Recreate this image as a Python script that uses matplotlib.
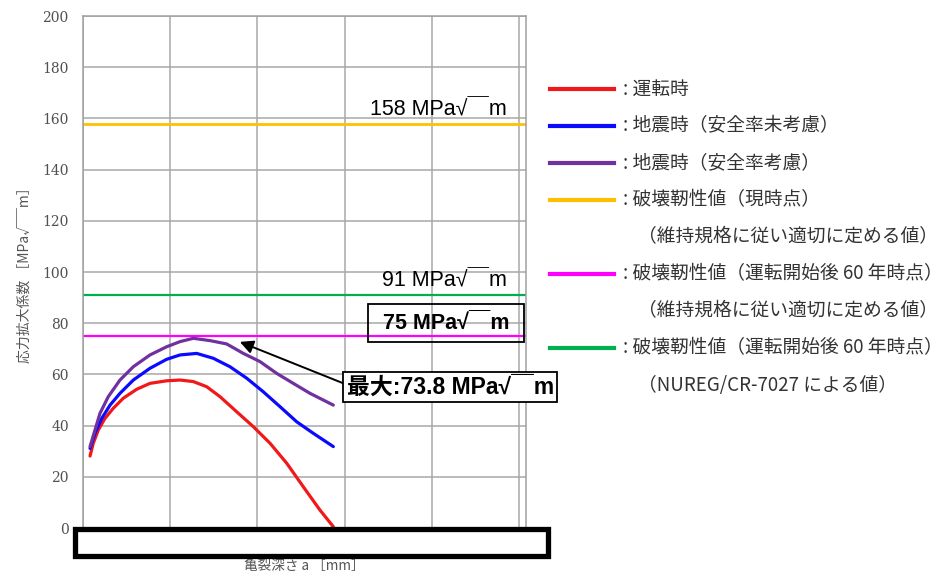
import matplotlib
matplotlib.use('Agg')
import matplotlib.pyplot as plt
from matplotlib.lines import Line2D
from matplotlib.patches import Rectangle

# crack depth (grid units, real tick labels hidden in source)
x_red = [0.084, 0.121, 0.179, 0.255, 0.351, 0.465, 0.619, 0.771, 0.962, 1.115,
         1.267, 1.420, 1.573, 1.764, 1.954, 2.146, 2.337, 2.527, 2.718, 2.871]
k_red = [28.1, 33.1, 38.3, 42.8, 46.8, 50.7, 54.2, 56.5, 57.5, 57.8,
         57.2, 55.2, 51.3, 45.4, 39.6, 33.1, 25.3, 16.1, 7.0, 0.5]

x_blue = [0.084, 0.141, 0.218, 0.313, 0.427, 0.580, 0.771, 0.962, 1.115, 1.306,
          1.496, 1.687, 1.879, 2.069, 2.260, 2.451, 2.641, 2.871]
k_blue = [31.1, 37.0, 42.8, 48.0, 52.6, 57.8, 62.4, 65.9, 67.6, 68.2,
          66.3, 63.0, 58.5, 53.2, 47.4, 41.5, 37.0, 31.8]

x_purple = [0.084, 0.141, 0.198, 0.293, 0.427, 0.580, 0.771, 0.962, 1.115, 1.267,
            1.458, 1.649, 1.840, 2.031, 2.222, 2.412, 2.604, 2.871]
k_purple = [31.8, 38.3, 44.8, 51.3, 57.8, 63.0, 67.6, 70.8, 72.8, 74.1,
            73.2, 71.9, 68.2, 65.0, 60.4, 56.5, 52.6, 48.0]

kic_now = 158
kic_60 = 75
kic_nureg = 91
k_max = 73.8

col_red = '#f01818'
col_blue = '#0a0aff'
col_purple = '#7030a0'
col_yellow = '#ffc000'
col_magenta = '#ff00ff'
col_green = '#00b050'

legend_rows = [
    (col_red, ': 運転時'),
    (col_blue, ': 地震時（安全率未考慮）'),
    (col_purple, ': 地震時（安全率考慮）'),
    (col_yellow, ': 破壊靭性値（現時点）'),
    (None, '（維持規格に従い適切に定める値）'),
    (col_magenta, ': 破壊靭性値（運転開始後 60 年時点）'),
    (None, '（維持規格に従い適切に定める値）'),
    (col_green, ': 破壊靭性値（運転開始後 60 年時点）'),
    (None, '（NUREG/CR-7027 による値）'),
]

W, H = 949, 574
fig = plt.figure(figsize=(W / 100, H / 100), dpi=100)
ax = fig.add_axes([82.7 / W, 1 - 528 / H, (526 - 82.7) / W, 512 / H])

XMAX = 5.078
ax.set_xlim(0, XMAX)
ax.set_ylim(0, 200)
ax.set_xticks([0, 1, 2, 3, 4, 5])
ax.set_yticks(range(0, 201, 20))
ax.set_xticklabels([])
ax.grid(True, color='#a8a8a8', lw=1.1)
ax.set_axisbelow(True)
for s in ax.spines.values():
    s.set_color('#a0a0a0')
    s.set_linewidth(1.1)
ax.tick_params(length=0, pad=10, labelsize=10, labelcolor='#505050')
for t in ax.get_yticklabels():
    t.set_fontfamily('DejaVu Serif')

# toughness lines
ax.axhline(kic_now, color=col_yellow, lw=2)
ax.axhline(kic_nureg, color=col_green, lw=1.6)
ax.axhline(kic_60, color=col_magenta, lw=1.6)

# stress intensity curves
ax.plot(x_red, k_red, color=col_red, lw=2.3, solid_capstyle='round')
ax.plot(x_blue, k_blue, color=col_blue, lw=2.3, solid_capstyle='round')
ax.plot(x_purple, k_purple, color=col_purple, lw=2.3, solid_capstyle='round')

fam = ['Liberation Sans', 'Noto Sans CJK JP']
ax.text(4.86, kic_now + 1.2, f'{kic_now} MPa√￣m', ha='right', va='bottom',
        fontsize=15.5, family=fam)
ax.text(4.86, kic_nureg + 1.2, f'{kic_nureg} MPa√￣m', ha='right', va='bottom',
        fontsize=15.5, family=fam)
ax.text(4.16, 80.0, f' {kic_60} MPa√￣m ', ha='center', va='center',
        fontsize=15.5, family=fam, fontweight='bold',
        bbox=dict(boxstyle='square,pad=0.4', fc='none', ec='black', lw=1.3))

ax.annotate(f'最大:{k_max} MPa√￣m', xy=(1.80, 72.7), xytext=(4.21, 55.1),
            ha='center', va='center', fontsize=16.5, family=fam,
            fontweight='bold', annotation_clip=False,
            bbox=dict(boxstyle='square,pad=0.15', fc='white', ec='black', lw=1.3),
            arrowprops=dict(arrowstyle='-|>', color='black', lw=1.4,
                            mutation_scale=20, relpos=(0, 0.6),
                            shrinkA=0, shrinkB=0))

ax.set_ylabel('応力拡大係数 ［MPa√￣m］', family=['Noto Sans CJK JP'],
              fontsize=10, color='#555555', va='center')
ax.yaxis.set_label_coords(-0.13, 0.5)
ax.set_xlabel('亀裂深さ a ［mm］', family=['Noto Sans CJK JP'],
              fontsize=9.8, color='#555555', va='center')
ax.xaxis.set_label_coords(0.5, -0.074)

# legend drawn at the right
y0 = 89
for i, (c, lab) in enumerate(legend_rows):
    yy = 1 - (y0 + 37 * i) / H
    if c is not None:
        fig.add_artist(Line2D([550 / W, 614 / W], [yy, yy], color=c, lw=3,
                              transform=fig.transFigure))
        fig.text(623 / W, yy, lab, va='center', ha='left', fontsize=13.5,
                 family=['Noto Sans CJK JP'], color='#333333')
    else:
        fig.text(638 / W, yy, lab, va='center', ha='left', fontsize=13.5,
                 family=['Noto Sans CJK JP'], color='#333333')

# mask box over x tick labels
fig.add_artist(Rectangle((75 / W, 1 - 556 / H), 473 / W, 27 / H,
                         transform=fig.transFigure, fc='white', ec='black',
                         lw=3.8, zorder=10))

fig.savefig('out.png', dpi=100)
